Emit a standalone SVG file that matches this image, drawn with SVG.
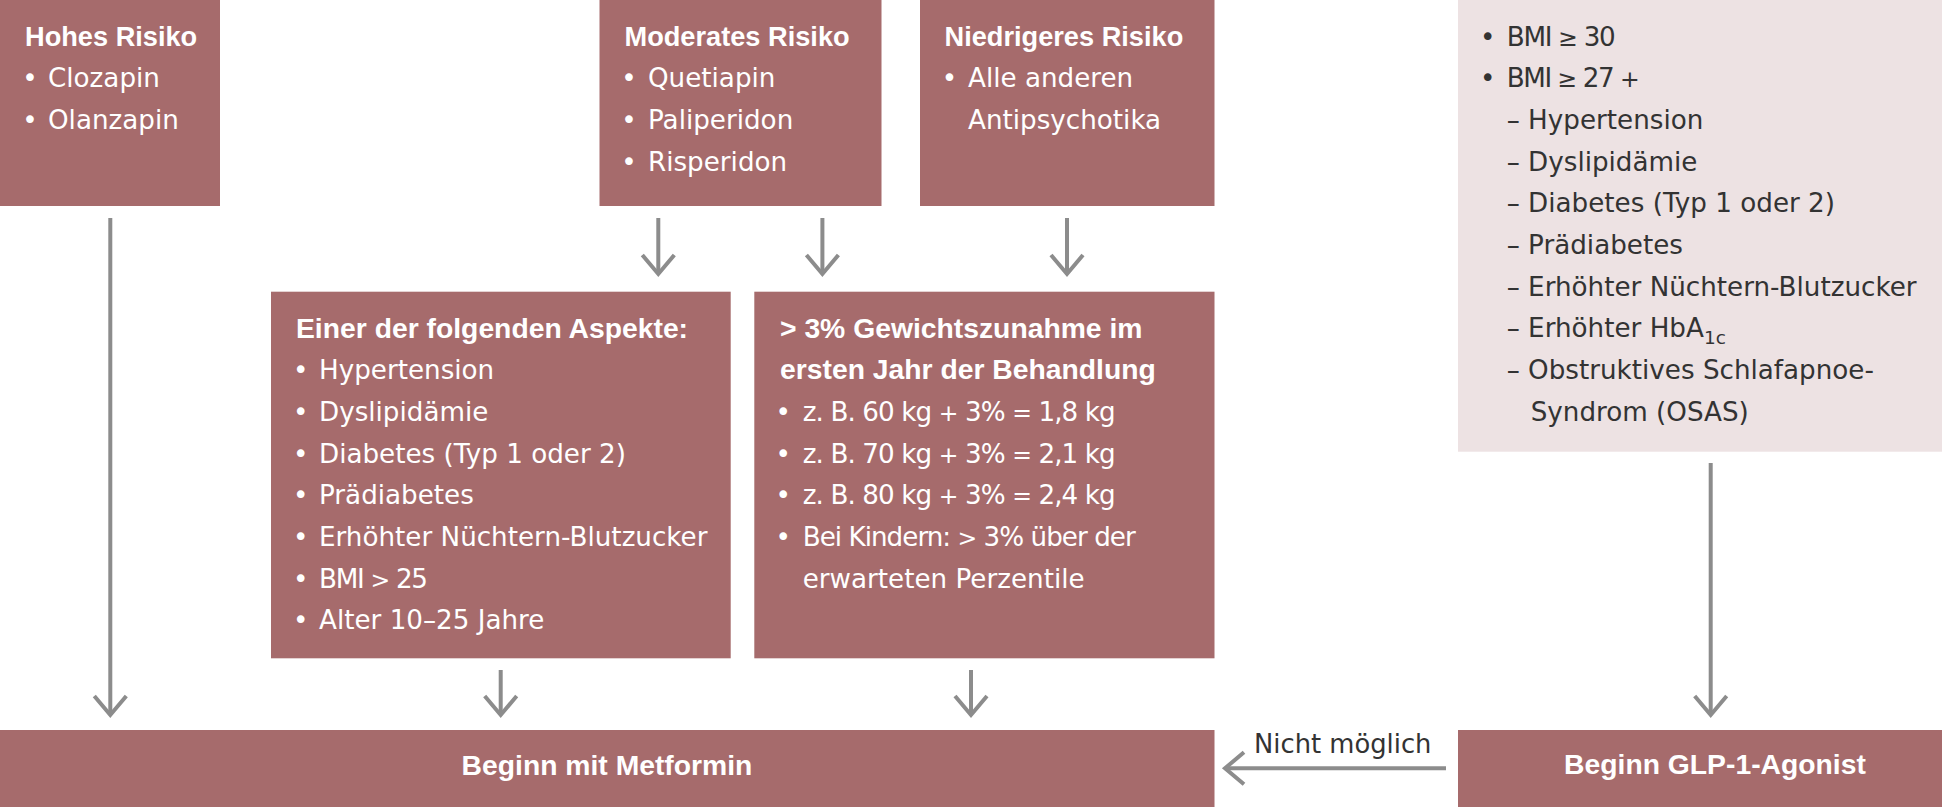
<svg xmlns="http://www.w3.org/2000/svg" width="1942" height="807" viewBox="0 0 1942 807">
<style>
.box{fill:#A66B6C}
.light{fill:#EDE2E3}
.t{font-family:"Liberation Sans",Arial,sans-serif;font-weight:bold;font-size:28.3px;fill:#fff}
.ts{font-size:27.2px}
.b{font-family:"DejaVu Sans","Liberation Sans",sans-serif;font-size:26.2px;fill:#fff}
.sy{font-size:23.5px}
.dk{fill:#333333}
.conn{stroke:#8C8C8C;stroke-width:4;fill:none;marker-end:url(#arr)}
.lbl{font-family:"DejaVu Sans","Liberation Sans",sans-serif;font-size:25.8px;fill:#333333}
</style>
<defs>
<marker id="arr" markerUnits="userSpaceOnUse" markerWidth="40" markerHeight="40" viewBox="-25 -20 30 40" refX="0" refY="0" orient="auto" overflow="visible">
<path d="M-19,-16 L0,0 L-19,16" fill="none" stroke="#8C8C8C" stroke-width="4"/>
</marker>
</defs>
<rect width="1942" height="807" fill="#ffffff"/>

<g id="n-hohes">
<rect class="box" x="0" y="0" width="220" height="206"/>
<text class="t ts" x="25" y="45.7">Hohes Risiko</text>
<text class="b" x="22.3" y="87.3">•</text><text class="b" x="48" y="87.3">Clozapin</text>
<text class="b" x="22.3" y="129">•</text><text class="b" x="48" y="129">Olanzapin</text>
</g>

<g id="n-moderat">
<rect class="box" x="599.5" y="0" width="282" height="206"/>
<text class="t ts" x="624.5" y="45.7">Moderates Risiko</text>
<text class="b" x="621.3" y="87.3">•</text><text class="b" x="648" y="87.3">Quetiapin</text>
<text class="b" x="621.3" y="129">•</text><text class="b" x="648" y="129">Paliperidon</text>
<text class="b" x="621.3" y="170.7">•</text><text class="b" x="648" y="170.7">Risperidon</text>
</g>

<g id="n-niedrig">
<rect class="box" x="920" y="0" width="294.5" height="206"/>
<text class="t ts" x="944.5" y="45.7">Niedrigeres Risiko</text>
<text class="b" x="941.8" y="87.3">•</text><text class="b" x="968" y="87.3">Alle anderen</text>
<text class="b" x="968" y="129">Antipsychotika</text>
</g>

<g id="n-glpkriterien">
<rect class="light" x="1458" y="0" width="484" height="451.7"/>
<text class="b dk" x="1480" y="45.7">•</text><text class="b dk" x="1506.7" y="45.7" textLength="109" lengthAdjust="spacing">BMI <tspan class="sy">≥</tspan> 30</text>
<text class="b dk" x="1480" y="87.3">•</text><text class="b dk" x="1506.7" y="87.3" textLength="133" lengthAdjust="spacing">BMI <tspan class="sy">≥</tspan> 27 <tspan class="sy">+</tspan></text>
<text class="b dk" x="1506.7" y="129">– Hypertension</text>
<text class="b dk" x="1506.7" y="170.7">– Dyslipidämie</text>
<text class="b dk" x="1506.7" y="212.3">– Diabetes (Typ 1 oder 2)</text>
<text class="b dk" x="1506.7" y="254">– Prädiabetes</text>
<text class="b dk" x="1506.7" y="295.7">– Erhöhter Nüchtern-Blutzucker</text>
<text class="b dk" x="1506.7" y="337.3">– Erhöhter HbA<tspan font-size="18.5" dy="7">1c</tspan></text>
<text class="b dk" x="1506.7" y="379">– Obstruktives Schlafapnoe-</text>
<text class="b dk" x="1530.7" y="420.7">Syndrom (OSAS)</text>
</g>

<g id="n-aspekte">
<rect class="box" x="271" y="291.7" width="459.7" height="366.6"/>
<text class="t" x="296" y="338.3">Einer der folgenden Aspekte:</text>
<text class="b" x="293" y="379.3">•</text><text class="b" x="319" y="379.3">Hypertension</text>
<text class="b" x="293" y="421">•</text><text class="b" x="319" y="421">Dyslipidämie</text>
<text class="b" x="293" y="462.7">•</text><text class="b" x="319" y="462.7">Diabetes (Typ 1 oder 2)</text>
<text class="b" x="293" y="504.3">•</text><text class="b" x="319" y="504.3">Prädiabetes</text>
<text class="b" x="293" y="546">•</text><text class="b" x="319" y="546">Erhöhter Nüchtern-Blutzucker</text>
<text class="b" x="293" y="587.7">•</text><text class="b" x="319" y="587.7" textLength="109" lengthAdjust="spacing">BMI <tspan class="sy">&gt;</tspan> 25</text>
<text class="b" x="293" y="629.3">•</text><text class="b" x="319" y="629.3">Alter 10–25 Jahre</text>
</g>

<g id="n-gewicht">
<rect class="box" x="754.3" y="291.7" width="460.2" height="366.6"/>
<text class="t" x="780" y="338.3">&gt; 3% Gewichtszunahme im</text>
<text class="t" x="780" y="379.3">ersten Jahr der Behandlung</text>
<text class="b" x="775.6" y="421">•</text><text class="b" x="802.7" y="421" textLength="313" lengthAdjust="spacing">z. B. 60 kg <tspan class="sy">+</tspan> 3% <tspan class="sy">=</tspan> 1,8 kg</text>
<text class="b" x="775.6" y="462.7">•</text><text class="b" x="802.7" y="462.7" textLength="313" lengthAdjust="spacing">z. B. 70 kg <tspan class="sy">+</tspan> 3% <tspan class="sy">=</tspan> 2,1 kg</text>
<text class="b" x="775.6" y="504.3">•</text><text class="b" x="802.7" y="504.3" textLength="313" lengthAdjust="spacing">z. B. 80 kg <tspan class="sy">+</tspan> 3% <tspan class="sy">=</tspan> 2,4 kg</text>
<text class="b" x="775.6" y="546">•</text><text class="b" x="802.7" y="546" textLength="333" lengthAdjust="spacing">Bei Kindern: <tspan class="sy">&gt;</tspan> 3% über der</text>
<text class="b" x="802.7" y="587.7">erwarteten Perzentile</text>
</g>

<g id="n-metformin">
<rect class="box" x="0" y="730" width="1214.5" height="77"/>
<text class="t" x="607" y="775" text-anchor="middle">Beginn mit Metformin</text>
</g>

<g id="n-glp">
<rect class="box" x="1458" y="730" width="484" height="77"/>
<text class="t" x="1715" y="774" text-anchor="middle">Beginn GLP-1-Agonist</text>
</g>

<g id="connectors">
<path class="conn" d="M110.3 218 V715"/>
<path class="conn" d="M658.3 218 V274"/>
<path class="conn" d="M822.4 218 V274"/>
<path class="conn" d="M1067 218 V274"/>
<path class="conn" d="M500.7 670 V715"/>
<path class="conn" d="M971 670 V715"/>
<path class="conn" d="M1710.7 463 V715"/>
<path class="conn" d="M1446 768.3 H1225"/>
<text class="lbl" x="1254" y="753">Nicht möglich</text>
</g>
</svg>
